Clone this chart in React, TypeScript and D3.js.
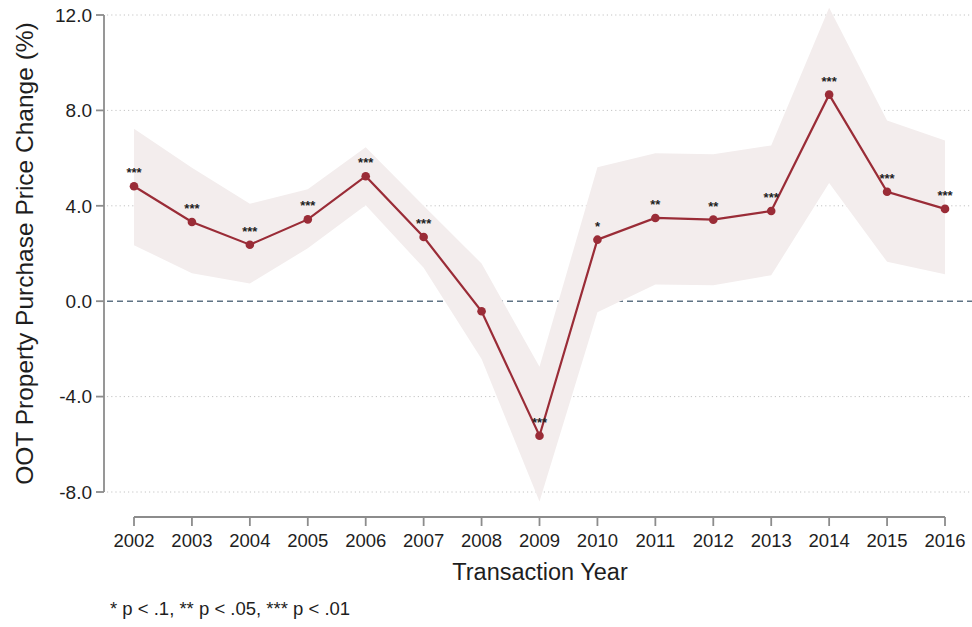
import React from "react";
import * as d3 from "d3";

// Transaction years and estimated purchase price change (%) with confidence bounds
const years = [2002, 2003, 2004, 2005, 2006, 2007, 2008, 2009, 2010, 2011, 2012, 2013, 2014, 2015, 2016];
const estimate = [4.82, 3.32, 2.37, 3.43, 5.24, 2.69, -0.42, -5.64, 2.58, 3.49, 3.42, 3.78, 8.66, 4.59, 3.87];
const upper = [7.23, 5.6, 4.09, 4.69, 6.46, 4.0, 1.58, -2.75, 5.62, 6.2, 6.16, 6.53, 12.3, 7.58, 6.74];
const lower = [2.35, 1.17, 0.74, 2.22, 4.02, 1.4, -2.42, -8.4, -0.46, 0.7, 0.67, 1.09, 4.96, 1.65, 1.13];
const stars = ["***", "***", "***", "***", "***", "***", "", "***", "*", "**", "**", "***", "***", "***", "***"];
const yTicks = [12, 8, 4, 0, -4, -8];

const W = 972;
const H = 627;
const FONT = "'Liberation Sans', Arial, Helvetica, sans-serif";
const INK = "#1e1e1e";
const AXIS = "#8c8c8c";
const RED = "#9a2c37";

export default function App() {
  const x = d3.scaleLinear().domain([2002, 2016]).range([134, 945]);
  const y = d3.scaleLinear().domain([-8, 12]).range([492, 15]);

  const rows = years.map((yr, i) => ({ yr, v: estimate[i], hi: upper[i], lo: lower[i], s: stars[i] }));

  const band = d3
    .area<typeof rows[number]>()
    .x((d) => x(d.yr))
    .y0((d) => y(d.lo))
    .y1((d) => y(d.hi))(rows) as string;

  const line = d3
    .line<typeof rows[number]>()
    .x((d) => x(d.yr))
    .y((d) => y(d.v))(rows) as string;

  const axisX = 104;
  const gridRight = 972;
  const xAxisY = 517;

  return (
    <svg
      width={W}
      height={H}
      style={{ position: "absolute", left: 0, top: 0, background: "#fff" }}
      fontFamily={FONT}
    >
      <rect x={0} y={0} width={W} height={H} fill="#fff" />

      {/* horizontal gridlines */}
      {yTicks.map((t) =>
        t === 0 ? null : (
          <line
            key={`g${t}`}
            x1={axisX + 3}
            x2={gridRight}
            y1={y(t)}
            y2={y(t)}
            stroke="#c4c4c4"
            strokeWidth={1}
            strokeDasharray="1.2 3"
          />
        )
      )}
      {/* zero reference line */}
      <line
        x1={axisX + 3}
        x2={gridRight}
        y1={y(0)}
        y2={y(0)}
        stroke="#5f7384"
        strokeWidth={1.5}
        strokeDasharray="6 4"
      />

      {/* confidence band */}
      <path d={band} fill="#f3eded" />

      {/* estimate line and markers */}
      <path d={line} fill="none" stroke={RED} strokeWidth={2.2} />
      {rows.map((d) => (
        <circle key={`p${d.yr}`} cx={x(d.yr)} cy={y(d.v)} r={4.3} fill={RED} />
      ))}

      {/* significance stars */}
      {rows.map((d) =>
        d.s ? (
          <text
            key={`s${d.yr}`}
            x={x(d.yr)}
            y={y(d.v) - 9}
            textAnchor="middle"
            fontSize={13}
            fontWeight="bold"
            fill={INK}
          >
            {d.s}
          </text>
        ) : null
      )}

      {/* y axis */}
      <line x1={axisX} x2={axisX} y1={y(12)} y2={y(-8)} stroke={AXIS} strokeWidth={1.8} />
      {yTicks.map((t) => (
        <g key={`yt${t}`}>
          <line x1={axisX - 8} x2={axisX} y1={y(t)} y2={y(t)} stroke={AXIS} strokeWidth={1.8} />
          <text x={axisX - 12} y={y(t)} dy="0.36em" textAnchor="end" fontSize={19} fill={INK}>
            {t.toFixed(1)}
          </text>
        </g>
      ))}

      {/* x axis */}
      <line x1={x(2002)} x2={x(2016)} y1={xAxisY} y2={xAxisY} stroke={AXIS} strokeWidth={1.8} />
      {years.map((yr) => (
        <g key={`xt${yr}`}>
          <line x1={x(yr)} x2={x(yr)} y1={xAxisY} y2={xAxisY + 9} stroke={AXIS} strokeWidth={1.8} />
          <text x={x(yr)} y={547} textAnchor="middle" fontSize={18.5} fill={INK}>
            {yr}
          </text>
        </g>
      ))}

      {/* axis titles */}
      <text x={540} y={580} textAnchor="middle" fontSize={23.5} fill={INK}>
        Transaction Year
      </text>
      <text
        transform={`translate(33, ${(y(12) + y(-8)) / 2}) rotate(-90)`}
        textAnchor="middle"
        fontSize={24.5}
        fill={INK}
      >
        OOT Property Purchase Price Change (%)
      </text>

      {/* footnote */}
      <text x={110} y={615} fontSize={18.5} fill={INK}>
        * p &lt; .1, ** p &lt; .05, *** p &lt; .01
      </text>
    </svg>
  );
}
